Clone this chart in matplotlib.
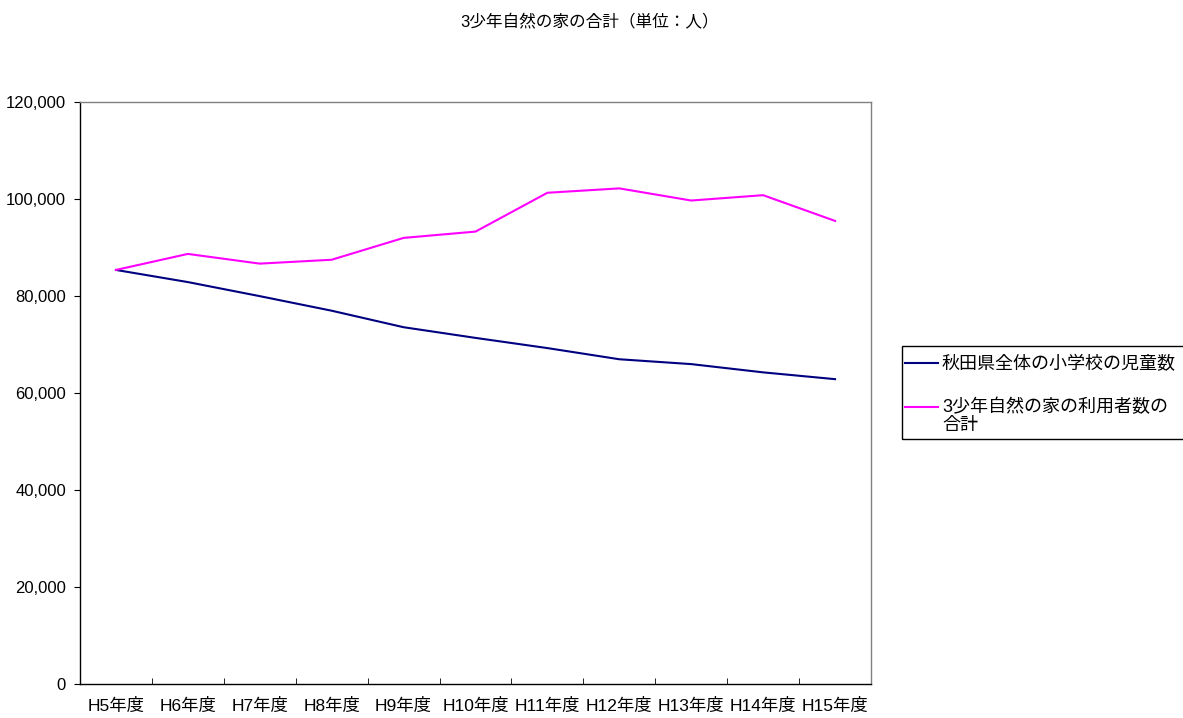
import matplotlib
matplotlib.use("Agg")
import matplotlib.pyplot as plt
from matplotlib.ticker import FuncFormatter, FixedLocator, NullFormatter
from matplotlib.legend_handler import HandlerLine2D
from matplotlib.lines import Line2D
from matplotlib.patches import Rectangle

plt.rcParams['font.family'] = ['Liberation Sans', 'Noto Sans CJK JP']

categories = ["H5年度", "H6年度", "H7年度", "H8年度", "H9年度", "H10年度",
              "H11年度", "H12年度", "H13年度", "H14年度", "H15年度"]
pupils = [85300, 82800, 79900, 76900, 73500, 71300, 69200, 66900, 65900, 64200, 62800]
visitors = [85300, 88600, 86600, 87400, 91900, 93200, 101200, 102100, 99600, 100700, 95400]
series_labels = ["秋田県全体の小学校の児童数", "3少年自然の家の利用者数の\n合計"]
title = "3少年自然の家の合計（単位：人）"
yticks = [0, 20000, 40000, 60000, 80000, 100000, 120000]


class ShiftedLine(HandlerLine2D):
    """Line handle aligned with the first line of a multi-line label."""
    def __init__(self, dy=0.0, **kw):
        super().__init__(**kw)
        self.dy = dy

    def create_artists(self, legend, orig_handle, xdescent, ydescent,
                       width, height, fontsize, trans):
        arts = super().create_artists(legend, orig_handle, xdescent, ydescent,
                                      width, height, fontsize, trans)
        for a in arts:
            if isinstance(a, Line2D):
                a.set_ydata([y + self.dy for y in a.get_ydata()])
        return arts


W, H = 1183, 718
fig = plt.figure(figsize=(W / 100, H / 100), dpi=100)
ax = fig.add_axes([80 / W, 1 - 684 / H, (871 - 80) / W, (684 - 101.5) / H])

x = list(range(len(categories)))
l1, = ax.plot(x, pupils, color="#000080", lw=1.5, label=series_labels[0])
l2, = ax.plot(x, visitors, color="#FF00FF", lw=1.5, label=series_labels[1])

ax.set_xlim(-0.5, len(categories) - 0.5)
ax.set_ylim(0, 120000)
ax.set_yticks(yticks)
ax.yaxis.set_major_formatter(FuncFormatter(lambda v, p: f"{int(v):,}"))
ax.tick_params(axis='y', direction='out', length=4, labelsize=12, pad=6, color='black')

ax.set_xticks(x)
ax.set_xticklabels(categories, fontsize=12.5)
ax.tick_params(axis='x', which='major', length=0, pad=10)
ax.xaxis.set_minor_locator(FixedLocator([i - 0.5 for i in range(len(categories) + 1)]))
ax.xaxis.set_minor_formatter(NullFormatter())
ax.tick_params(axis='x', which='minor', direction='in', length=4, color='black')

for s in ['left', 'bottom']:
    ax.spines[s].set_color('black')
    ax.spines[s].set_linewidth(1.0)
for s in ['top', 'right']:
    ax.spines[s].set_color('#808080')
    ax.spines[s].set_linewidth(1.0)

fig.text(590 / W, 1 - 22 / H, title, ha='center', va='center', fontsize=12)

leg = fig.legend(handles=[l1, l2], labels=series_labels,
                 loc='upper left', bbox_to_anchor=(905 / W, 1 - 356 / H),
                 fontsize=13, frameon=False, borderaxespad=0,
                 handlelength=1.8, handletextpad=0.25, labelspacing=1.4,
                 borderpad=0.0,
                 handler_map={l2: ShiftedLine(dy=6.8)})
leg.get_texts()[1].set_linespacing(1.1)

fig.patches.append(Rectangle((902 / W, 1 - 439 / H), (1190 - 902) / W, (439 - 346) / H,
                             transform=fig.transFigure, fill=False,
                             edgecolor='black', linewidth=1.0))

fig.savefig("out.png", dpi=100)
